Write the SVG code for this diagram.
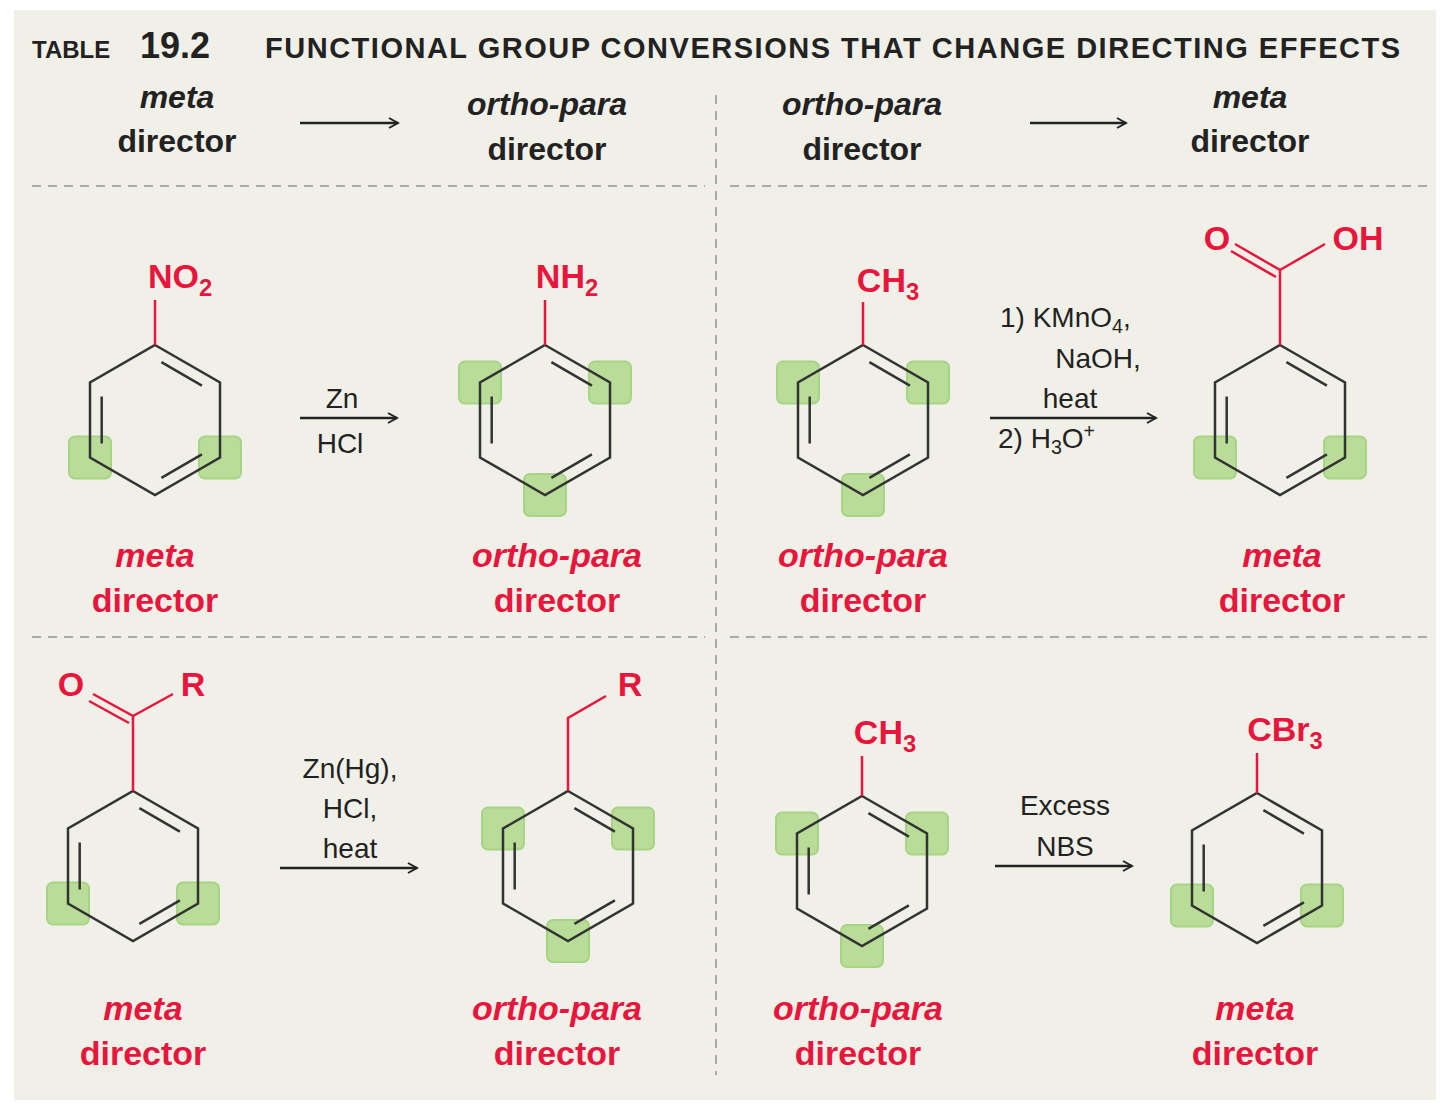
<svg xmlns="http://www.w3.org/2000/svg" width="1440" height="1103" viewBox="0 0 1440 1103">
<style>
text{font-family:"Liberation Sans",Arial,sans-serif}
.h{font-size:32px;font-weight:bold;fill:#222;text-anchor:middle}
.i{font-style:italic}
.r{font-size:34px;font-weight:bold;fill:#e8163c;text-anchor:middle}
.g{font-size:28px;fill:#222;text-anchor:middle}
.sub{font-size:0.7em}
.dash{stroke:#aaa;stroke-width:2;stroke-dasharray:9 7;fill:none}
.arr{stroke:#222;stroke-width:2.5;fill:none;marker-end:url(#ah)}
.rb{stroke:#e8163c;stroke-width:2.5;fill:none}
.ring{stroke:#333;stroke-width:2.5;fill:none}
.sq{fill:#b3dc90;stroke:#a0d27a;stroke-width:2;opacity:0.9}
</style>
<defs>
<marker id="ah" viewBox="0 0 12 12" refX="10" refY="6" markerWidth="12" markerHeight="12" markerUnits="userSpaceOnUse" orient="auto"><path d="M1,1 L10,6 L1,11" fill="none" stroke="#222" stroke-width="2"/></marker>
<g id="ring"><path class="ring" d="M0,-75 L65,-37.5 L65,37.5 L0,75 L-65,37.5 L-65,-37.5 Z M6.4,-57.8 L46.9,-34.4 M-53.3,-23.4 L-53.3,23.4 M46.9,34.4 L6.4,57.8"/></g>
<rect id="s" class="sq" x="-21" y="-21" width="42" height="42" rx="6"/>
<g id="meta"><use href="#s" x="-65" y="37.5"/><use href="#s" x="65" y="37.5"/></g>
<g id="op"><use href="#s" x="-65" y="-37.5"/><use href="#s" x="65" y="-37.5"/><use href="#s" x="0" y="75"/></g>
</defs>
<rect width="1440" height="1103" fill="#fff"/>
<rect x="14" y="10" width="1422" height="1090" fill="#f1f0e8"/>
<g id="title">
<text x="32" y="58" style="font-size:24px;font-weight:bold;fill:#222">TABLE</text>
<text x="140" y="58" style="font-size:36px;font-weight:bold;fill:#222">19.2</text>
<text x="265" y="58" textLength="1135" style="font-size:29px;font-weight:bold;fill:#222">FUNCTIONAL GROUP CONVERSIONS THAT CHANGE DIRECTING EFFECTS</text>
</g>
<g id="header">
<text class="h i" x="177" y="108">meta</text><text class="h" x="177" y="152">director</text>
<text class="h i" x="547" y="115">ortho-para</text><text class="h" x="547" y="160">director</text>
<text class="h i" x="862" y="115">ortho-para</text><text class="h" x="862" y="160">director</text>
<text class="h i" x="1250" y="108">meta</text><text class="h" x="1250" y="152">director</text>
</g>
<g id="grid">
<path class="dash" d="M32,186 H705 M730,186 H1430 M32,637 H705 M730,637 H1430 M716,95 V1075"/>
</g>
<g id="connectors">
<path class="arr" d="M300,123 H398"/>
<path class="arr" d="M1030,123 H1126"/>
<path class="arr" d="M300,418 H397"/>
<path class="arr" d="M990,418 H1156"/>
<path class="arr" d="M280,868 H417"/>
<path class="arr" d="M995,866 H1132"/>
</g>
<g id="reagents">
<text class="g" x="342" y="408">Zn</text><text class="g" x="340" y="453">HCl</text>
<text class="g" x="1000" y="327" style="text-anchor:start">1) KMnO<tspan class="sub" dy="6">4</tspan><tspan dy="-6">,</tspan></text>
<text class="g" x="1098" y="368">NaOH,</text>
<text class="g" x="1070" y="408">heat</text>
<text class="g" x="998" y="448" style="text-anchor:start">2) H<tspan class="sub" dy="6">3</tspan><tspan dy="-6">O</tspan><tspan class="sub" dy="-10">+</tspan></text>
<text class="g" x="350" y="778">Zn(Hg),</text><text class="g" x="350" y="818">HCl,</text><text class="g" x="350" y="858">heat</text>
<text class="g" x="1065" y="815">Excess</text><text class="g" x="1065" y="856">NBS</text>
</g>
<g id="nitrobenzene" transform="translate(155,420)">
<use href="#meta"/><use href="#ring"/><path class="rb" d="M0,-75 V-120"/>
<text class="r" x="25" y="-132">NO<tspan class="sub" dy="8">2</tspan></text>
</g>
<g id="aniline" transform="translate(545,420)">
<use href="#op"/><use href="#ring"/><path class="rb" d="M0,-75 V-120"/>
<text class="r" x="22" y="-132">NH<tspan class="sub" dy="8">2</tspan></text>
</g>
<g id="toluene1" transform="translate(863,420)">
<use href="#op"/><use href="#ring"/><path class="rb" d="M0,-75 V-118"/>
<text class="r" x="25" y="-128">CH<tspan class="sub" dy="8">3</tspan></text>
</g>
<g id="benzoicacid" transform="translate(1280,420)">
<use href="#meta"/><use href="#ring"/>
<path class="rb" d="M0,-75 V-150 L-45,-176 M-4,-143 L-49,-169 M0,-150 L45,-176"/>
<text class="r" x="-63" y="-170">O</text><text class="r" x="78" y="-170">OH</text>
</g>
<g id="ketone" transform="translate(133,866)">
<use href="#meta"/><use href="#ring"/>
<path class="rb" d="M0,-75 V-150 L-40,-172 M-4,-143 L-44,-165 M0,-150 L40,-172"/>
<text class="r" x="-62" y="-170">O</text><text class="r" x="60" y="-170">R</text>
</g>
<g id="alkylbenzene" transform="translate(568,866)">
<use href="#op"/><use href="#ring"/>
<path class="rb" d="M0,-75 V-148 L38,-170"/>
<text class="r" x="62" y="-170">R</text>
</g>
<g id="toluene2" transform="translate(862,871)">
<use href="#op"/><use href="#ring"/><path class="rb" d="M0,-75 V-115"/>
<text class="r" x="23" y="-127">CH<tspan class="sub" dy="8">3</tspan></text>
</g>
<g id="tribromo" transform="translate(1257,868)">
<use href="#meta"/><use href="#ring"/><path class="rb" d="M0,-75 V-115"/>
<text class="r" x="28" y="-127">CBr<tspan class="sub" dy="8">3</tspan></text>
</g>
<g id="labels">
<text class="r i" x="155" y="567">meta</text><text class="r" x="155" y="612">director</text>
<text class="r i" x="557" y="567">ortho-para</text><text class="r" x="557" y="612">director</text>
<text class="r i" x="863" y="567">ortho-para</text><text class="r" x="863" y="612">director</text>
<text class="r i" x="1282" y="567">meta</text><text class="r" x="1282" y="612">director</text>
<text class="r i" x="143" y="1020">meta</text><text class="r" x="143" y="1065">director</text>
<text class="r i" x="557" y="1020">ortho-para</text><text class="r" x="557" y="1065">director</text>
<text class="r i" x="858" y="1020">ortho-para</text><text class="r" x="858" y="1065">director</text>
<text class="r i" x="1255" y="1020">meta</text><text class="r" x="1255" y="1065">director</text>
</g>
</svg>
